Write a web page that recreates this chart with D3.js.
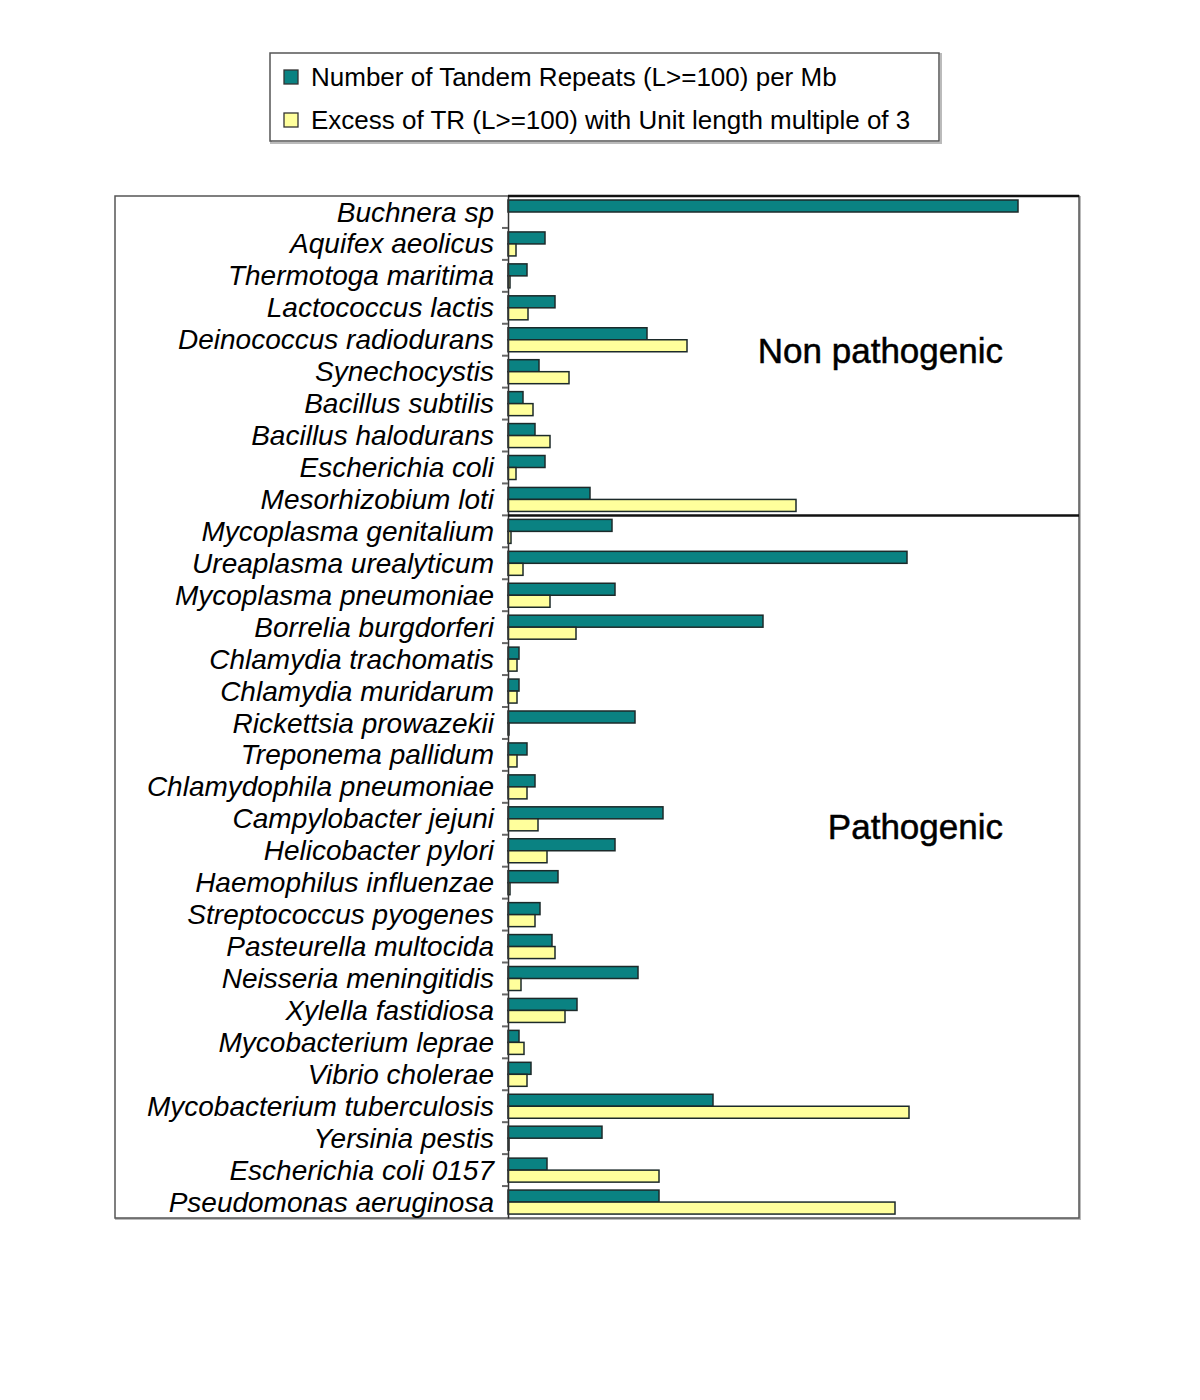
<!DOCTYPE html>
<html>
<head>
<meta charset="utf-8">
<script src="https://cdn.jsdelivr.net/npm/d3@7"></script>
<style>
  body { margin: 0; background: #fff; }
  svg { display: block; }
</style>
</head>
<body>
<svg id="chart" width="1200" height="1400"></svg>
<script>
// organisms, top to bottom
var species = [
  'Buchnera sp', 'Aquifex aeolicus', 'Thermotoga maritima', 'Lactococcus lactis',
  'Deinococcus radiodurans', 'Synechocystis', 'Bacillus subtilis', 'Bacillus halodurans',
  'Escherichia coli', 'Mesorhizobium loti',
  'Mycoplasma genitalium', 'Ureaplasma urealyticum', 'Mycoplasma pneumoniae',
  'Borrelia burgdorferi', 'Chlamydia trachomatis', 'Chlamydia muridarum',
  'Rickettsia prowazekii', 'Treponema pallidum', 'Chlamydophila pneumoniae',
  'Campylobacter jejuni', 'Helicobacter pylori', 'Haemophilus influenzae',
  'Streptococcus pyogenes', 'Pasteurella multocida', 'Neisseria meningitidis',
  'Xylella fastidiosa', 'Mycobacterium leprae', 'Vibrio cholerae',
  'Mycobacterium tuberculosis', 'Yersinia pestis', 'Escherichia coli 0157',
  'Pseudomonas aeruginosa'
];
var nonPathogenicCount = 10;

// values (no axis in the original, arbitrary units)
var tandemRepeats = [
  51.0, 3.7, 1.9, 4.7, 13.9, 3.1, 1.5, 2.7, 3.7, 8.2,
  10.4, 39.9, 10.7, 25.5, 1.1, 1.1, 12.7, 1.9, 2.7, 15.5, 10.7, 5.0,
  3.2, 4.4, 13.0, 6.9, 1.1, 2.3, 20.5, 9.4, 3.9, 15.1
];
var excessMultiple3 = [
  0.0, 0.8, 0.2, 2.0, 17.9, 6.1, 2.5, 4.2, 0.8, 28.8,
  0.3, 1.5, 4.2, 6.8, 0.9, 0.9, 0.1, 0.9, 1.9, 3.0, 3.9, 0.2,
  2.7, 4.7, 1.3, 5.7, 1.6, 1.9, 40.1, 0.1, 15.1, 38.7
];
var seriesNames = [
  'Number of Tandem Repeats (L>=100) per Mb',
  'Excess of TR (L>=100) with Unit length multiple of 3'
];
var seriesColors = ['#0a8282', '#ffff9c'];
var groupLabels = ['Non pathogenic', 'Pathogenic'];

var svg = d3.select('#chart');
var font = '"Liberation Sans", Arial, Helvetica, sans-serif';

var frame = { left: 115, right: 1079, top: 196, bottom: 1218 };
var axisX = 508;

var y = d3.scaleBand()
  .domain(species)
  .range([frame.top, frame.bottom]);

var ySeries = d3.scaleBand()
  .domain([0, 1])
  .range([4, 28]);

var x = d3.scaleLinear()
  .domain([0, 57.1])
  .range([axisX, frame.right]);

// outer frame with soft shadow
svg.append('rect')
  .attr('x', frame.left + 1).attr('y', frame.top + 1)
  .attr('width', frame.right - frame.left).attr('height', frame.bottom - frame.top)
  .attr('fill', 'none').attr('stroke', '#bbb').attr('stroke-width', 2);
svg.append('rect')
  .attr('x', frame.left).attr('y', frame.top)
  .attr('width', frame.right - frame.left).attr('height', frame.bottom - frame.top)
  .attr('fill', '#fff').attr('stroke', '#555').attr('stroke-width', 1.5);

// bars
var rows = species.map(function (name, i) {
  return { name: name, values: [tandemRepeats[i], excessMultiple3[i]] };
});

var groups = svg.append('g').selectAll('g')
  .data(rows)
  .enter().append('g')
  .attr('transform', function (d) { return 'translate(0,' + y(d.name) + ')'; });

groups.selectAll('rect')
  .data(function (d) { return d.values.map(function (v, k) { return { k: k, v: v }; }); })
  .enter().append('rect')
  .filter(function (d) { return d.v > 0; })
  .attr('x', x(0))
  .attr('y', function (d) { return ySeries(d.k); })
  .attr('width', function (d) { return x(d.v) - x(0); })
  .attr('height', ySeries.bandwidth())
  .attr('fill', function (d) { return seriesColors[d.k]; })
  .attr('stroke', '#1c2a2a')
  .attr('stroke-width', 1.5);

// category axis
var yAxis = d3.axisLeft(y).tickSize(0).tickPadding(14);
var axisG = svg.append('g')
  .attr('transform', 'translate(' + axisX + ',0)')
  .call(yAxis);
axisG.select('.domain').attr('stroke', '#333').attr('stroke-width', 1.5);
axisG.selectAll('text')
  .attr('font-family', font)
  .attr('font-style', 'italic')
  .attr('font-size', 28)
  .attr('fill', '#000')
  .attr('dy', '0.34em');

// tick marks at band boundaries
svg.append('g').selectAll('line')
  .data(species.slice(1))
  .enter().append('line')
  .attr('x1', axisX - 6).attr('x2', axisX)
  .attr('y1', function (d) { return y(d); })
  .attr('y2', function (d) { return y(d); })
  .attr('stroke', '#666').attr('stroke-width', 2);

// divider lines between groups
var dividers = [frame.top, y(species[nonPathogenicCount])];
svg.append('g').selectAll('line')
  .data(dividers)
  .enter().append('line')
  .attr('x1', axisX).attr('x2', frame.right)
  .attr('y1', function (d) { return d; })
  .attr('y2', function (d) { return d; })
  .attr('stroke', '#111').attr('stroke-width', 2.5);

// group labels
svg.append('g').selectAll('text')
  .data([
    { label: groupLabels[0], yPos: 363 },
    { label: groupLabels[1], yPos: 839 }
  ])
  .enter().append('text')
  .attr('x', 1003)
  .attr('y', function (d) { return d.yPos; })
  .attr('text-anchor', 'end')
  .attr('font-family', font)
  .attr('font-size', 35)
  .attr('fill', '#000')
  .attr('stroke', '#000')
  .attr('stroke-width', 0.5)
  .text(function (d) { return d.label; });

// legend
var legend = svg.append('g');
legend.append('rect')
  .attr('x', 271).attr('y', 54).attr('width', 670).attr('height', 89)
  .attr('fill', 'none').attr('stroke', '#bbb').attr('stroke-width', 2);
legend.append('rect')
  .attr('x', 270).attr('y', 53).attr('width', 669).attr('height', 88)
  .attr('fill', '#fff').attr('stroke', '#555').attr('stroke-width', 1.5);

var legendItems = legend.selectAll('g.item')
  .data(seriesNames)
  .enter().append('g')
  .attr('class', 'item')
  .attr('transform', function (d, i) { return 'translate(284,' + (70 + i * 43) + ')'; });
legendItems.append('rect')
  .attr('width', 14).attr('height', 14)
  .attr('fill', function (d, i) { return seriesColors[i]; })
  .attr('stroke', '#333').attr('stroke-width', 1.3);
legendItems.append('text')
  .attr('x', 27).attr('y', 16)
  .attr('font-family', font)
  .attr('font-size', 26)
  .attr('fill', '#000')
  .text(function (d) { return d; });
</script>
</body>
</html>
